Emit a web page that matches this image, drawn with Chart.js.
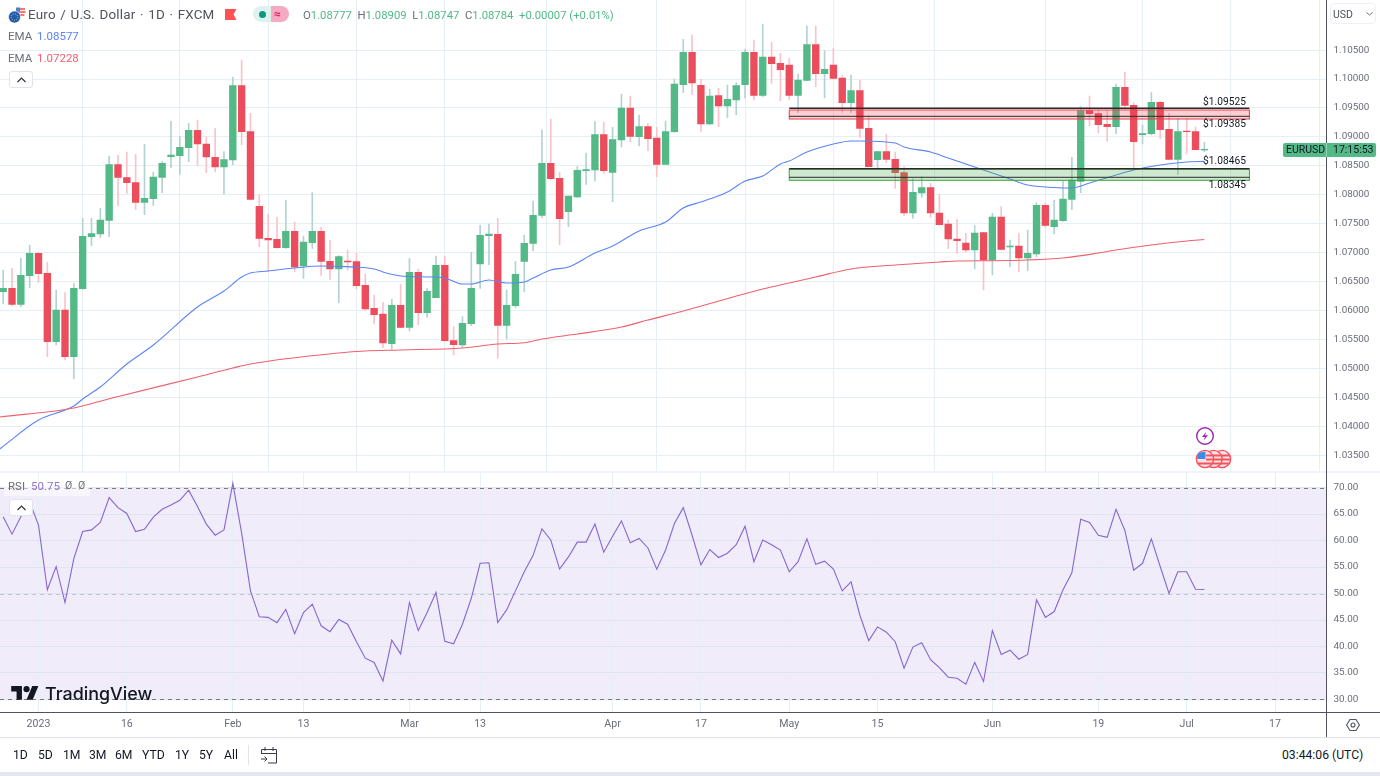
<!DOCTYPE html>
<html><head><meta charset="utf-8">
<script src="https://cdn.jsdelivr.net/npm/chart.js@4"></script>
<style>
html,body{margin:0;padding:0;background:#fff;width:1380px;height:776px;overflow:hidden;font-family:Roboto,sans-serif}
canvas{position:absolute;left:0;display:block}
.t{position:absolute;white-space:nowrap;line-height:14px}
.ln{position:absolute}
.btn{position:absolute;width:24px;height:17px;border:1px solid #e0e3eb;border-radius:3px;background:#fff;box-sizing:border-box}
svg{position:absolute;overflow:visible}
</style></head><body>
<canvas id="price" style="top:0" width="1380" height="471"></canvas>
<canvas id="rsi" style="top:473px" width="1380" height="264"></canvas>
<div class="ln" style="left:0;top:471px;width:1380px;height:2px;background:#f0f3fa"></div>
<div class="ln" style="left:1326px;top:0;width:1px;height:737px;background:#50535e"></div>
<div class="ln" style="left:0;top:712px;width:1380px;height:1px;background:#50535e"></div>
<div class="ln" style="left:0;top:737px;width:1380px;height:1px;background:#e0e3eb"></div>
<div class="ln" style="left:0;top:772px;width:1380px;height:4px;background:#e4e7ee"></div>
<div class="ln" style="left:248px;top:745px;width:1px;height:20px;background:#e0e3eb"></div>

<svg style="left:8px;top:6px" width="18" height="18" viewBox="0 0 18 18">
<circle cx="12.5" cy="6" r="5" fill="#f4f4f4"/><path d="M8 3h9M7.6 6h10M8.4 9h8" stroke="#ef5350" stroke-width="1.4"/><path d="M8 1.5h4v4H8z" fill="#4a80d0"/>
<circle cx="6.5" cy="11" r="6" fill="#1f5cb0" stroke="#fff" stroke-width=".6"/><circle cx="6.5" cy="11" r="3.2" fill="none" stroke="#f3d24b" stroke-width=".9" stroke-dasharray="1 1.2"/></svg>
<div class="t" style="left:28px;top:8px;font-size:13.4px;color:#50535e;letter-spacing:.2px;word-spacing:1px">Euro / U.S. Dollar · 1D · FXCM</div>
<svg style="left:225px;top:9px" width="12" height="11"><path d="M0 0H11.5L8.5 5.5L11.5 11H0Z" fill="#ff5252"/></svg>
<div class="ln" style="left:253px;top:6px;width:18px;height:16px;background:#dff2ef;border-radius:8px 0 0 8px"></div>
<div class="ln" style="left:271px;top:6px;width:18px;height:16px;background:#f5a9c3;border-radius:0 8px 8px 0"></div>
<div class="ln" style="left:259px;top:10.5px;width:7px;height:7px;background:#089981;border-radius:50%"></div>
<div class="t" style="left:274px;top:7px;font-size:12px;color:#e91e63;font-weight:700">≈</div>
<div class="t" id="ohlc" style="left:303px;top:9px;font-size:11.3px;color:#53b987">
<span style="color:#6a6d78">O</span>1.08777 <span style="color:#6a6d78">&nbsp;H</span>1.08909 <span style="color:#6a6d78">&nbsp;L</span>1.08747 <span style="color:#6a6d78">&nbsp;C</span>1.08784 &nbsp;+0.00007 (+0.01%)</div>
<div class="t" style="left:8px;top:29px;font-size:11.5px;color:#6a6d78">EMA</div>
<div class="t" style="left:37px;top:29px;font-size:11.5px;color:#5b84f5">1.08577</div>
<div class="t" style="left:8px;top:51px;font-size:11.5px;color:#6a6d78">EMA</div>
<div class="t" style="left:37px;top:51px;font-size:11.5px;color:#f2606c">1.07228</div>
<div class="btn" style="left:9px;top:71px"><svg style="left:7px;top:5px" width="9" height="6"><path d="M.5 5L4.5 1L8.5 5" fill="none" stroke="#333" stroke-width="1.2"/></svg></div>

<div class="ln" style="left:4px;top:479px;width:86px;height:17px;background:rgba(255,255,255,.55)"></div>
<div class="t" style="left:8px;top:479px;font-size:11.5px;color:#6a6d78">RSI</div>
<div class="t" style="left:31px;top:479px;font-size:11.5px;color:#9575cd">50.75</div>
<div class="t" style="left:65px;top:479px;font-size:10.5px;color:#6a6d78">Ø</div>
<div class="t" style="left:78px;top:479px;font-size:10.5px;color:#6a6d78">Ø</div>
<div class="btn" style="left:9px;top:499px"><svg style="left:7px;top:5px" width="9" height="6"><path d="M.5 5L4.5 1L8.5 5" fill="none" stroke="#333" stroke-width="1.2"/></svg></div>

<svg style="left:10.5px;top:683px" width="28" height="18" viewBox="0 0 36 23.5"><path d="M14 22H7V11H0V4h14v18zM28 22h-8l7.5-18h8L28 22z" fill="#131722"/><circle cx="20" cy="8" r="4" fill="#131722"/></svg>
<div class="t" style="left:45px;top:685px;font-size:17.9px;line-height:18px;font-weight:500;color:#131722;font-family:Inter,Roboto,sans-serif">TradingView</div>

<div class="ln" style="left:1283px;top:143px;width:93px;height:14px;background:#53b987;border-radius:2px"></div>
<div class="ln" style="left:1326px;top:143px;width:1px;height:14px;background:#8fd3b0"></div>
<div class="t" style="left:1286px;top:143px;font-size:10.5px;color:#131722">EURUSD</div>
<div class="t" style="left:1333px;top:143px;font-size:10.5px;color:#131722">17:15:53</div>

<div class="ln" style="left:1330px;top:3px;width:46px;height:21px;border:1px solid #eef0f4;border-radius:4px;box-sizing:border-box"></div>
<div class="t" style="left:1333px;top:8px;font-size:10.5px;color:#50535e">USD</div>
<svg style="left:1366px;top:12px" width="7" height="4"><path d="M.5.5L3.5 3L6.5.5" fill="none" stroke="#6a6d78"/></svg>

<svg style="left:1195px;top:426px" width="20" height="20"><circle cx="10" cy="10" r="8.3" fill="#fff" stroke="#9c27b0" stroke-width="1.4"/><path d="M11.5 5.5L7 11h3l-1.5 3.8L13 9.2h-3z" fill="#9c27b0"/></svg>
<svg style="left:1194px;top:449px" width="40" height="20">
<circle cx="28" cy="10" r="8.6" fill="#fbe3e5" stroke="#f7525f" stroke-width="1.4"/><path d="M20 6.5h16M19.6 10.5h17M20.5 14.5h15" stroke="#f7525f" stroke-width="2"/>
<circle cx="19.5" cy="10" r="8.6" fill="#fbe3e5" stroke="#f7525f" stroke-width="1.4"/><path d="M12 6.5h15M11.2 10.5h17M12.5 14.5h14" stroke="#f7525f" stroke-width="2"/>
<circle cx="11" cy="10" r="8.6" fill="#fbe3e5" stroke="#f7525f" stroke-width="1.4"/><path d="M12 6.5h7M12 10.5h7.2M4 14.5h14" stroke="#f7525f" stroke-width="2"/><path d="M4.2 4.8Q6.5 2.8 11.5 2.5V10H3.2Q3.2 6.6 4.2 4.8z" fill="#3d8be8"/></svg>

<div id="ranges"></div>
<svg style="left:260px;top:746px" width="18" height="18" fill="none" stroke="#3a3d47" stroke-width="1"><path d="M1.5 8V3.5h15V17H8M1.5 7.5h15M5 1v4M13 1v4M1 13h6M4.5 10.5L7 13l-2.5 2.5"/></svg>
<div class="t" style="left:1282px;top:748px;font-size:12.2px;color:#131722">03:44:06 (UTC)</div>
<svg style="left:1346px;top:718px" width="14" height="14" fill="none" stroke="#50535e" stroke-width="1.1"><path d="M4 1.5h6l3.4 5.5L10 12.5H4L.6 7z"/><circle cx="7" cy="7" r="2"/></svg>

<script>
// Daily bars; the first one sits four sessions before 2 Jan 2023 (session index 0).
const firstSession = -4;
const opens = [1.06328,1.06386,1.06110,1.06605,1.06990,1.06645,1.05465,1.06012,1.05206,1.06380,1.07278,1.07324,1.07560,1.08521,1.08297,1.08210,1.07871,1.07934,1.08302,1.08659,1.08676,1.08814,1.09114,1.08878,1.08648,1.08481,1.08602,1.09885,1.09091,1.07802,1.07249,1.07232,1.07088,1.07370,1.06771,1.07174,1.07370,1.06852,1.06720,1.06858,1.06846,1.06438,1.06041,1.05943,1.05431,1.06092,1.05713,1.06662,1.05966,1.06225,1.06783,1.05482,1.05408,1.05776,1.06806,1.07295,1.07318,1.05747,1.06087,1.06852,1.07163,1.07646,1.08544,1.08285,1.07710,1.07963,1.08417,1.08429,1.09039,1.08389,1.08947,1.09499,1.09004,1.09177,1.08981,1.08527,1.09091,1.09902,1.10460,1.09891,1.09223,1.09712,1.09534,1.09637,1.09902,1.10460,1.09718,1.10380,1.10270,1.10242,1.09718,1.09977,1.10593,1.10092,1.10242,1.10017,1.09591,1.09799,1.09148,1.08607,1.08745,1.08613,1.08383,1.07686,1.08032,1.08124,1.07686,1.07497,1.07238,1.07169,1.07048,1.07347,1.06875,1.07617,1.07100,1.07117,1.06910,1.06979,1.07819,1.07451,1.07554,1.07922,1.08233,1.09453,1.09401,1.09217,1.09177,1.09856,1.09545,1.09039,1.09056,1.09597,1.09131,1.08613,1.09102,1.09091,1.08777];
const closes = [1.06386,1.06110,1.06610,1.06990,1.06639,1.05465,1.06012,1.05206,1.06386,1.07284,1.07330,1.07566,1.08521,1.08302,1.08210,1.07871,1.07940,1.08308,1.08544,1.08688,1.08820,1.09114,1.08878,1.08653,1.08481,1.08607,1.09885,1.09091,1.07922,1.07249,1.07220,1.07088,1.07370,1.06754,1.07186,1.07370,1.06852,1.06720,1.06933,1.06841,1.06432,1.06029,1.05931,1.05442,1.06092,1.05713,1.06662,1.05966,1.06334,1.06783,1.05482,1.05413,1.05782,1.06386,1.07301,1.07324,1.05747,1.06092,1.06628,1.07163,1.07646,1.08544,1.08279,1.07589,1.07980,1.08423,1.08435,1.09039,1.08417,1.08953,1.09499,1.09010,1.09177,1.08970,1.08527,1.09091,1.09914,1.10460,1.09931,1.09223,1.09706,1.09534,1.09649,1.09885,1.10460,1.09718,1.10380,1.10265,1.10161,1.09718,1.09983,1.10593,1.10092,1.10167,1.10012,1.09591,1.09799,1.09148,1.08486,1.08745,1.08613,1.08383,1.07686,1.08043,1.08124,1.07686,1.07485,1.07238,1.07209,1.07048,1.07341,1.06875,1.07617,1.07059,1.07117,1.06910,1.06990,1.07819,1.07474,1.07566,1.07928,1.08256,1.09453,1.09401,1.09212,1.09177,1.09856,1.09545,1.08918,1.09056,1.09597,1.09125,1.08613,1.09091,1.09091,1.08780,1.08784];
const highs = [1.06702,1.06731,1.06904,1.07134,1.07000,1.06835,1.06357,1.06311,1.06472,1.07594,1.07594,1.07767,1.08671,1.08682,1.08740,1.08699,1.08872,1.08394,1.08579,1.09269,1.09004,1.09235,1.09292,1.09004,1.09143,1.08745,1.10029,1.10328,1.09407,1.07997,1.07669,1.07606,1.07905,1.07531,1.07289,1.08038,1.07439,1.07220,1.06950,1.07048,1.06990,1.06633,1.06271,1.06144,1.06196,1.06455,1.06904,1.06720,1.06386,1.06944,1.06944,1.05724,1.05897,1.07007,1.07474,1.07497,1.07594,1.06357,1.06846,1.07307,1.07894,1.09119,1.09309,1.08389,1.07980,1.08486,1.08722,1.09263,1.09252,1.09166,1.09741,1.09706,1.09378,1.09235,1.09166,1.09275,1.10000,1.10685,1.10760,1.09994,1.09827,1.09839,1.09896,1.09937,1.10512,1.10673,1.10950,1.10633,1.10443,1.10357,1.10086,1.10915,1.10915,1.10489,1.10535,1.10058,1.10069,1.09983,1.09367,1.08750,1.09050,1.08740,1.08486,1.08279,1.08314,1.08199,1.08009,1.07566,1.07577,1.07335,1.07468,1.07358,1.07681,1.07796,1.07220,1.07335,1.07393,1.07865,1.07853,1.07911,1.08245,1.08648,1.09522,1.09706,1.09465,1.09465,1.09914,1.10121,1.09591,1.09206,1.09764,1.09620,1.09407,1.09321,1.09321,1.09171,1.08909];
const lows = [1.06115,1.06081,1.06069,1.06397,1.06489,1.05206,1.05408,1.05149,1.04820,1.06369,1.07122,1.07266,1.07278,1.07813,1.08026,1.07750,1.07658,1.07819,1.08038,1.08469,1.08354,1.08573,1.08504,1.08383,1.08394,1.08015,1.08521,1.08866,1.07911,1.07105,1.06674,1.07080,1.07076,1.06674,1.06559,1.07076,1.06610,1.06541,1.06138,1.06702,1.06374,1.06000,1.05770,1.05361,1.05333,1.05707,1.05649,1.05759,1.05885,1.06220,1.05471,1.05235,1.05367,1.05741,1.06386,1.06794,1.05177,1.05517,1.06058,1.06323,1.07036,1.07606,1.08256,1.07140,1.07451,1.07957,1.08181,1.08239,1.08371,1.07882,1.08826,1.08912,1.08843,1.08763,1.08314,1.08521,1.09079,1.09764,1.09730,1.09096,1.09212,1.09177,1.09332,1.09384,1.09672,1.09637,1.09695,1.09925,1.09626,1.09637,1.09424,1.09971,1.09868,1.09672,1.10000,1.09424,1.09424,1.08993,1.08480,1.08458,1.08555,1.08112,1.07646,1.07594,1.07957,1.07612,1.07480,1.07071,1.06990,1.07019,1.06720,1.06357,1.06616,1.07048,1.06760,1.06668,1.06691,1.06927,1.07439,1.07330,1.07543,1.07744,1.08038,1.09189,1.09068,1.08924,1.09056,1.09476,1.08440,1.08878,1.09033,1.08970,1.08610,1.08354,1.08705,1.08774,1.08747];
const rsiValues = [64.5,61.2,64.5,67.3,62.9,50.7,55.1,48.3,56.6,61.7,62.0,63.4,68.1,66.2,65.1,61.7,62.1,64.4,65.9,66.7,67.6,69.5,66.4,63.1,61.0,62.0,70.8,61.4,50.5,45.6,45.5,44.5,47.0,42.4,46.4,48.0,43.9,42.8,45.1,44.2,40.9,37.8,37.0,33.5,41.2,38.6,48.3,43.0,46.4,50.2,41.0,40.5,44.2,49.1,55.7,55.8,44.5,46.9,50.5,54.1,57.2,62.2,60.1,54.6,56.9,59.7,59.7,63.1,57.8,60.8,63.7,59.6,60.4,58.6,54.6,58.2,63.2,66.2,61.0,55.4,58.3,56.8,57.6,59.2,62.7,56.0,60.1,59.2,58.2,54.1,56.0,60.3,55.5,56.1,54.6,50.5,52.2,45.9,41.1,43.7,42.7,40.9,35.9,39.9,40.7,37.5,36.0,34.2,34.0,32.9,37.0,33.4,43.0,38.5,39.3,37.6,38.5,48.8,45.5,46.6,50.7,53.9,64.0,63.4,61.0,60.6,65.9,61.9,54.4,55.7,60.3,55.1,50.0,54.1,54.1,50.8,50.75];
// EMA curves at these sessions
const emaFastSessions = [-4.4,0,4,5,7,10,13,18,21,23,24,26,29,32,34,36,38,39,41,44,46,48,49,51,53,55,56,58,60,63,65,68,71,73,75,78,80,82,84,85,87,90,92,93,97,98,101,103,105,106,108,110,112,115,117,119,122,124,127,130,132];
const emaFastValues = [1.03612,1.04113,1.04354,1.04475,1.04682,1.05079,1.05407,1.06064,1.06340,1.06582,1.06650,1.06685,1.06737,1.06771,1.06763,1.06754,1.06720,1.06668,1.06599,1.06582,1.06564,1.06461,1.06461,1.06530,1.06478,1.06495,1.06564,1.06702,1.06754,1.06996,1.07117,1.07376,1.07531,1.07773,1.07876,1.08049,1.08239,1.08325,1.08532,1.08584,1.08740,1.08878,1.08930,1.08930,1.08895,1.08826,1.08740,1.08636,1.08532,1.08481,1.08377,1.08273,1.08170,1.08127,1.08118,1.08204,1.08343,1.08429,1.08515,1.08567,1.08577];
const emaSlowSessions = [-4.4,4,8,18,22,24,34,37,41,48,52,55,57,61,66,69,73,82,85,88,92,97,102,104,108,112,116,120,122,126,130,132];
const emaSlowValues = [1.04164,1.04320,1.04480,1.04855,1.05010,1.05079,1.05269,1.05304,1.05321,1.05356,1.05425,1.05447,1.05511,1.05597,1.05718,1.05839,1.05994,1.06374,1.06478,1.06582,1.06720,1.06789,1.06840,1.06858,1.06863,1.06875,1.06910,1.06996,1.07048,1.07134,1.07203,1.07228];
// Axis labels
const dateTickSessions = [0,10,22,30,42,50,65,75,85,95,108,120,130,140];
const dateTickLabels = ['2023','16','Feb','13','Mar','13','Apr','17','May','15','Jun','19','Jul','17'];
const priceTicks = [1.035,1.04,1.045,1.05,1.055,1.06,1.065,1.07,1.075,1.08,1.085,1.09,1.095,1.10,1.105];
const rsiTicks = [30,35,40,45,50,55,60,65,70];
// Drawn zones
const zoneStart = 85, zoneEnd = 137.1;
const redZone = [1.09465,1.09309];
const redZoneLines = [1.09494,1.09356];
const greenZone = [1.08446,1.08251];
const greenZoneLines = [1.08451,1.08303];
const zoneLabelTexts = ['$1.09525','$1.09385','$1.08465','1.08345'];
const zoneLabelPrices = [1.09600,1.09210,1.08580,1.08170];
const rangeLabels = ['1D','5D','1M','3M','6M','YTD','1Y','5Y','All'];

const sessions = opens.map((_,k)=>k+firstSession);
const GREEN='#53b987', RED='#eb4d5c', GREEN_W='#b3d2d2', RED_W='#f8c4ca';
const isUp = k=>closes[k]>=opens[k];
const xMin=-4.36, xMax=145.83;
const GRID='#e6eff4';
const tickFont={family:'Roboto',size:9.9};

function xScale(showLabels){return {
  type:'linear',min:xMin,max:xMax,offset:false,
  afterBuildTicks(s){s.ticks=dateTickSessions.map(v=>({value:v}));},
  afterFit(s){s.height=showLabels?25:0;s.paddingLeft=0;s.paddingRight=0;s.paddingTop=0;s.paddingBottom=0;},
  grid:{color:GRID,lineWidth:1,drawTicks:false},
  border:{display:false},
  ticks:{display:showLabels,autoSkip:false,maxRotation:0,padding:6,color:'#6a6d78',font:{family:'Roboto',size:10.6},
    callback:v=>{const k=dateTickSessions.indexOf(v);return k<0?'':dateTickLabels[k];}}
};}
function yScale(min,max,list,dec,grid){return {
  position:'right',min,max,
  afterBuildTicks(s){s.ticks=list.map(v=>({value:v}));},
  afterFit(s){s.width=53.5;s.paddingTop=0;s.paddingBottom=0;s.paddingLeft=0;s.paddingRight=0;},
  grid:{color:grid,lineWidth:1,drawTicks:false},
  border:{display:false},
  ticks:{padding:7,color:'#6a6d78',font:tickFont,autoSkip:false,callback:v=>(+v).toFixed(dec)}
};}

const zones={id:'zones',afterDatasetsDraw(c){
  const {ctx,scales:{x,y}}=c;
  const L=x.getPixelForValue(zoneStart),R=x.getPixelForValue(zoneEnd);
  const box=(p,fill,stroke)=>{const a=y.getPixelForValue(p[0]),b=y.getPixelForValue(p[1]);
    ctx.fillStyle=fill;ctx.fillRect(L,a,R-L,b-a);
    ctx.strokeStyle=stroke;ctx.lineWidth=1;ctx.strokeRect(L,a,R-L,b-a);};
  ctx.save();
  box(redZone,'rgba(242,54,69,.24)','#e8424f');
  box(greenZone,'rgba(76,175,80,.27)','#3aa63f');
  ctx.strokeStyle='#2a2a2a';
  redZoneLines.concat(greenZoneLines).forEach((p,k)=>{
    ctx.lineWidth=(k%2===0)?1.6:1;
    const v=y.getPixelForValue(p);ctx.beginPath();ctx.moveTo(L,v);ctx.lineTo(R,v);ctx.stroke();});
  ctx.fillStyle='#131722';ctx.font='10.2px Roboto';ctx.textAlign='right';ctx.textBaseline='middle';
  zoneLabelTexts.forEach((t,k)=>ctx.fillText(t,x.getPixelForValue(136.7),y.getPixelForValue(zoneLabelPrices[k])));
  ctx.restore();
}};

new Chart(document.getElementById('price'),{
  type:'bar',
  data:{datasets:[
    {type:'line',order:0,data:emaSlowSessions.map((s,k)=>({x:s,y:emaSlowValues[k]})),borderColor:'#f0606c',borderWidth:1.1,pointRadius:0,cubicInterpolationMode:'monotone'},
    {type:'line',order:0,data:emaFastSessions.map((s,k)=>({x:s,y:emaFastValues[k]})),borderColor:'#5b84f5',borderWidth:1.1,pointRadius:0,cubicInterpolationMode:'monotone'},
    {order:1,data:sessions.map((s,k)=>({x:s,y:[opens[k],closes[k]]})),barThickness:6.7,grouped:false,borderWidth:0,
     backgroundColor:sessions.map((s,k)=>isUp(k)?GREEN:RED)},
    {order:2,data:sessions.map((s,k)=>({x:s,y:[lows[k],highs[k]]})),barThickness:1,grouped:false,borderWidth:0,
     backgroundColor:sessions.map((s,k)=>isUp(k)?GREEN_W:RED_W)}
  ]},
  options:{responsive:false,animation:false,layout:{padding:0},
    plugins:{legend:{display:false},tooltip:{enabled:false}},
    scales:{x:xScale(false),y:yScale(1.03232,1.11364,priceTicks,5,GRID)}},
  plugins:[zones]
});

const rsiBand={id:'rsiBand',
  beforeDraw(c){const {ctx,chartArea:a,scales:{y}}=c;const t=y.getPixelForValue(70),b=y.getPixelForValue(30);
    ctx.save();ctx.fillStyle='#f0ecf9';ctx.fillRect(a.left,t,a.right-a.left,b-t);ctx.restore();},
  beforeDatasetsDraw(c){const {ctx,chartArea:a,scales:{y}}=c;ctx.save();ctx.lineWidth=1;ctx.setLineDash([4,4]);
    [[70,'#787b86'],[50,'#c6c3d2'],[30,'#787b86']].forEach(([v,col])=>{ctx.strokeStyle=col;const p=Math.round(y.getPixelForValue(v))+.5;
      ctx.beginPath();ctx.moveTo(a.left,p);ctx.lineTo(a.right,p);ctx.stroke();});ctx.restore();}
};
new Chart(document.getElementById('rsi'),{
  type:'line',
  data:{datasets:[{data:sessions.map((s,k)=>({x:s,y:rsiValues[k]})),borderColor:'#8667cf',borderWidth:1.1,pointRadius:0,tension:0}]},
  options:{responsive:false,animation:false,layout:{padding:0},
    plugins:{legend:{display:false},tooltip:{enabled:false}},
    scales:{x:xScale(true),y:yScale(27.64,72.74,rsiTicks,2,'#e0e4f1')}},
  plugins:[rsiBand]
});

const rangeX=[13,38,63,89,115,142,175,199,224];
const host=document.getElementById('ranges');
rangeLabels.forEach((t,k)=>{const d=document.createElement('div');d.className='t';d.textContent=t;
  d.style.cssText=`left:${rangeX[k]}px;top:748px;font-size:12.2px;color:#131722`;host.appendChild(d);});
</script>
</body></html>
